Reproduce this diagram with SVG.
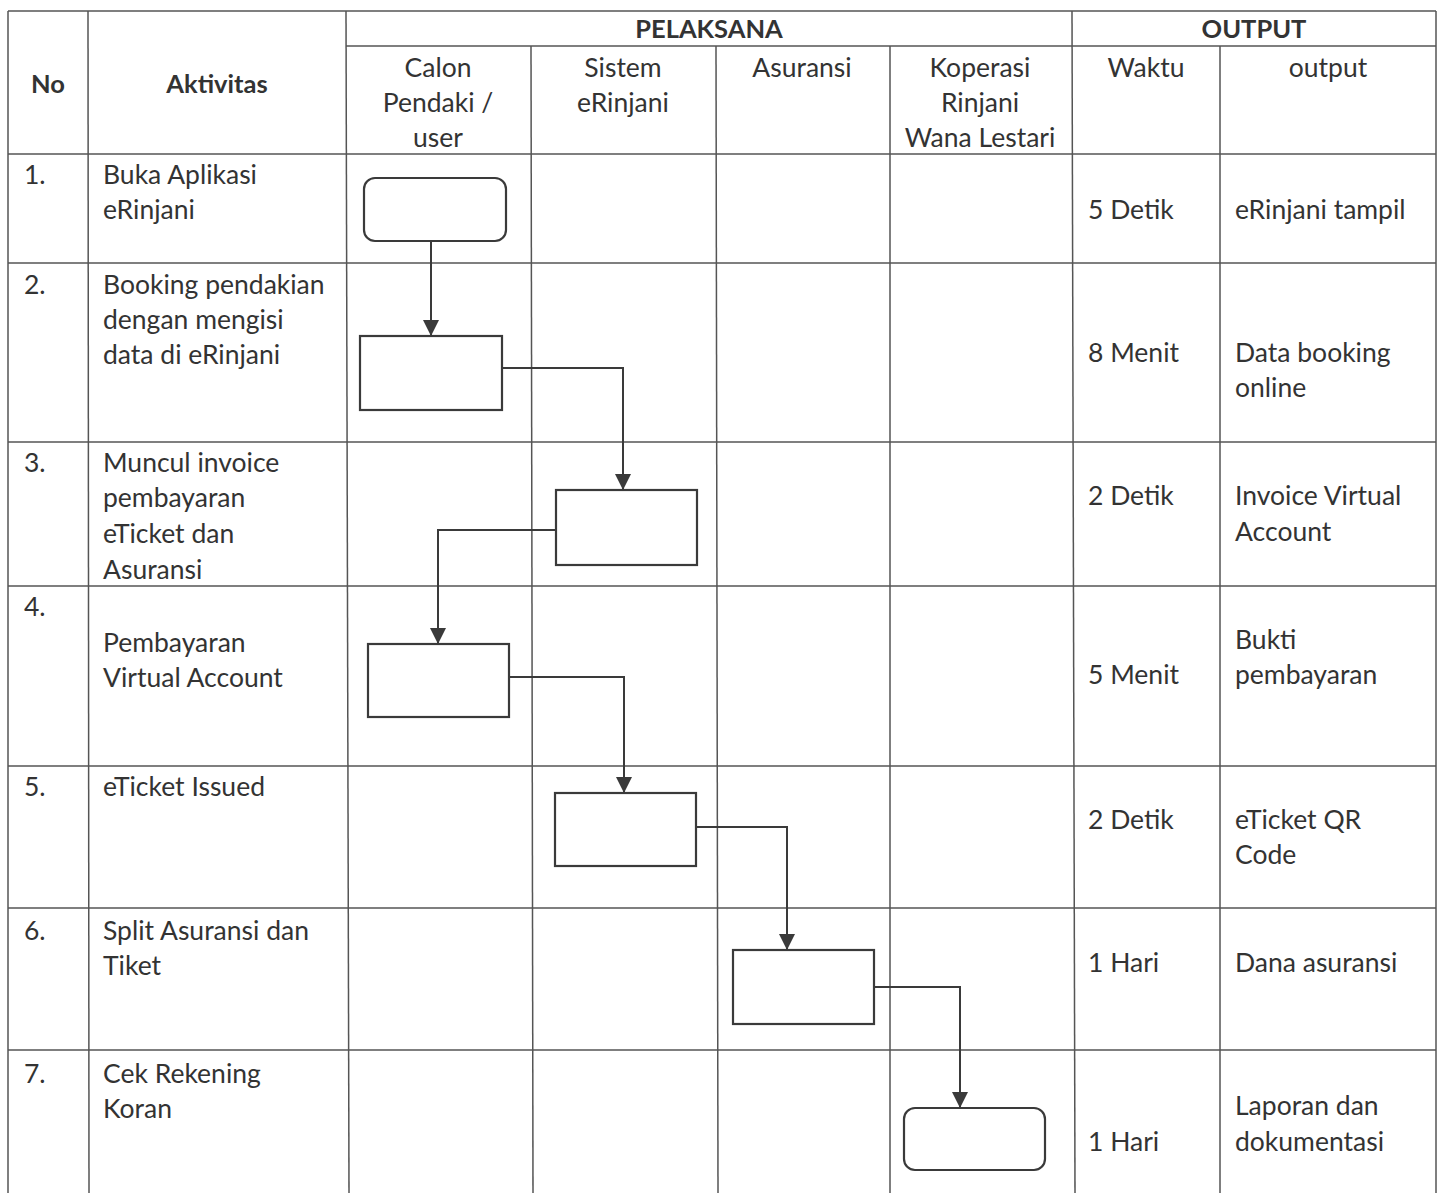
<svg xmlns="http://www.w3.org/2000/svg" width="1444" height="1193" viewBox="0 0 1444 1193">
<style>
text{font-family:Lato,"Open Sans","Liberation Sans",sans-serif;font-size:26.5px;fill:#333}
.b{font-weight:bold;font-size:25.5px}
.c{text-anchor:middle}
.grid line{stroke:#555;stroke-width:1.5}
.node rect{fill:#fff;stroke:#3a3a3a;stroke-width:2.2}
.conn path{fill:none;stroke:#3a3a3a;stroke-width:2}
</style>
<defs>
<marker id="arr" viewBox="0 0 16 16" refX="8" refY="16" markerWidth="16" markerHeight="16" markerUnits="userSpaceOnUse" orient="0">
<path d="M0,0 L16,0 L8,16 Z" fill="#3a3a3a"/>
</marker>
</defs>
<rect width="1444" height="1193" fill="#fff"/>
<g class="grid">
<line x1="8" y1="11" x2="1436" y2="11"/>
<line x1="346" y1="46" x2="1436" y2="46"/>
<line x1="8" y1="154" x2="1436" y2="154"/>
<line x1="8" y1="263" x2="1436" y2="263"/>
<line x1="8" y1="442" x2="1436" y2="442"/>
<line x1="8" y1="586" x2="1436" y2="586"/>
<line x1="8" y1="766" x2="1436" y2="766"/>
<line x1="8" y1="908" x2="1436" y2="908"/>
<line x1="8" y1="1050" x2="1436" y2="1050"/>
<line x1="8" y1="11" x2="8" y2="1193"/>
<line x1="88" y1="11" x2="89" y2="1193"/>
<line x1="346" y1="11" x2="349" y2="1193"/>
<line x1="531" y1="46" x2="533" y2="1193"/>
<line x1="716" y1="46" x2="718" y2="1193"/>
<line x1="890" y1="46" x2="890" y2="1193"/>
<line x1="1072" y1="11" x2="1075" y2="1193"/>
<line x1="1220" y1="46" x2="1220" y2="1193"/>
<line x1="1436" y1="11" x2="1436" y2="1193"/>
</g>
<g id="header">
<text class="b c" x="48" y="93">No</text>
<text class="b c" x="217" y="93">Aktivitas</text>
<text class="b c" x="709" y="38">PELAKSANA</text>
<text class="b c" x="1254" y="38">OUTPUT</text>
<text class="c" x="438" y="77">Calon</text>
<text class="c" x="438" y="112">Pendaki /</text>
<text class="c" x="438" y="147">user</text>
<text class="c" x="623" y="77">Sistem</text>
<text class="c" x="623" y="112">eRinjani</text>
<text class="c" x="802" y="77">Asuransi</text>
<text class="c" x="980" y="77">Koperasi</text>
<text class="c" x="980" y="112">Rinjani</text>
<text class="c" x="980" y="147">Wana Lestari</text>
<text class="c" x="1146" y="77">Waktu</text>
<text class="c" x="1328" y="77">output</text>
</g>
<g id="rows">
<text x="24" y="184">1.</text>
<text x="103" y="184">Buka Aplikasi</text>
<text x="103" y="219">eRinjani</text>
<text x="1088" y="219">5 Detik</text>
<text x="1235" y="219">eRinjani tampil</text>
<text x="24" y="294">2.</text>
<text x="103" y="294">Booking pendakian</text>
<text x="103" y="329">dengan mengisi</text>
<text x="103" y="364">data di eRinjani</text>
<text x="1088" y="362">8 Menit</text>
<text x="1235" y="362">Data booking</text>
<text x="1235" y="397">online</text>
<text x="24" y="472">3.</text>
<text x="103" y="472">Muncul invoice</text>
<text x="103" y="507">pembayaran</text>
<text x="103" y="543">eTicket dan</text>
<text x="103" y="579">Asuransi</text>
<text x="1088" y="505">2 Detik</text>
<text x="1235" y="505">Invoice Virtual</text>
<text x="1235" y="541">Account</text>
<text x="24" y="616">4.</text>
<text x="103" y="652">Pembayaran</text>
<text x="103" y="687">Virtual Account</text>
<text x="1088" y="684">5 Menit</text>
<text x="1235" y="649">Bukti</text>
<text x="1235" y="684">pembayaran</text>
<text x="24" y="796">5.</text>
<text x="103" y="796">eTicket Issued</text>
<text x="1088" y="829">2 Detik</text>
<text x="1235" y="829">eTicket QR</text>
<text x="1235" y="864">Code</text>
<text x="24" y="940">6.</text>
<text x="103" y="940">Split Asuransi dan</text>
<text x="103" y="975">Tiket</text>
<text x="1088" y="972">1 Hari</text>
<text x="1235" y="972">Dana asuransi</text>
<text x="24" y="1083">7.</text>
<text x="103" y="1083">Cek Rekening</text>
<text x="103" y="1118">Koran</text>
<text x="1088" y="1151">1 Hari</text>
<text x="1235" y="1115">Laporan dan</text>
<text x="1235" y="1151">dokumentasi</text>
</g>
<g class="conn">
<path d="M431,241 V336" marker-end="url(#arr)"/>
<path d="M502,368 H623 V490" marker-end="url(#arr)"/>
<path d="M556,530 H438 V644" marker-end="url(#arr)"/>
<path d="M509,677 H624 V793" marker-end="url(#arr)"/>
<path d="M696,827 H787 V950" marker-end="url(#arr)"/>
<path d="M874,987 H960 V1108" marker-end="url(#arr)"/>
</g>
<g id="n1" class="node"><rect x="364" y="178" width="142" height="63" rx="11"/></g>
<g id="n2" class="node"><rect x="360" y="336" width="142" height="74"/></g>
<g id="n3" class="node"><rect x="556" y="490" width="141" height="75"/></g>
<g id="n4" class="node"><rect x="368" y="644" width="141" height="73"/></g>
<g id="n5" class="node"><rect x="555" y="793" width="141" height="73"/></g>
<g id="n6" class="node"><rect x="733" y="950" width="141" height="74"/></g>
<g id="n7" class="node"><rect x="904" y="1108" width="141" height="62" rx="11"/></g>
</svg>
